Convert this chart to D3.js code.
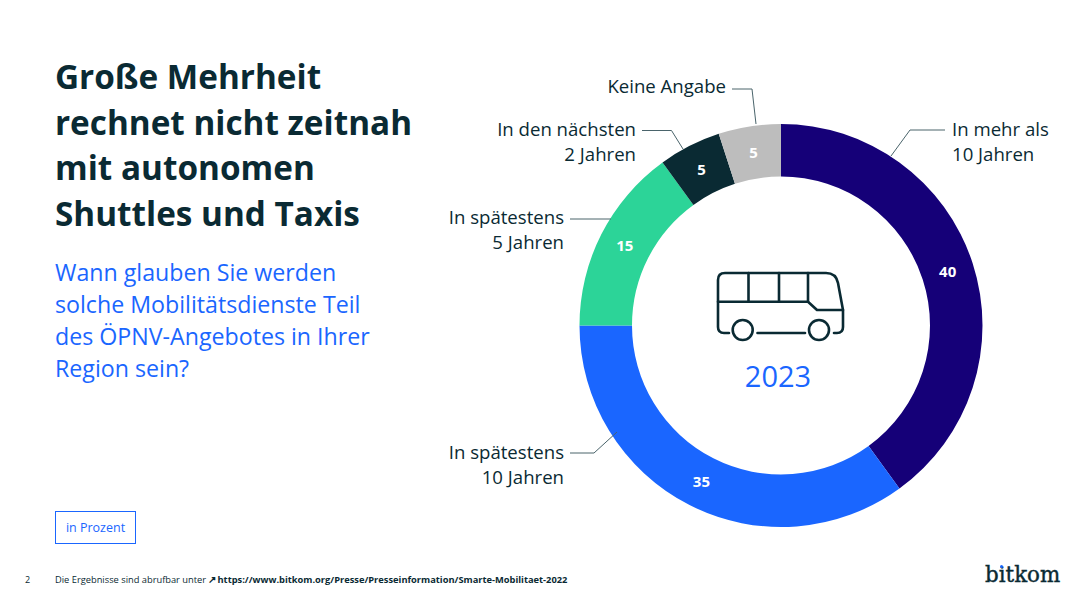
<!DOCTYPE html>
<html lang="de">
<head>
<meta charset="UTF-8"/>
<title>Autonome Shuttles und Taxis</title>
<script src="https://d3js.org/d3.v7.min.js"></script>
<style>
    body { margin: 0; background: #fff; }
    text { font-family: "Open Sans", sans-serif; }
</style>
</head>
<body>
<script>
var w = 1090, h = 613;

var categories = ["In mehr als 10 Jahren", "In spätestens 10 Jahren", "In spätestens 5 Jahren", "In den nächsten 2 Jahren", "Keine Angabe"];
var values = [40, 35, 15, 5, 5];
var colors = ["#150078", "#1a66ff", "#2cd498", "#0a2a33", "#bdbdbd"];
var titleLines = ["Große Mehrheit", "rechnet nicht zeitnah", "mit autonomen", "Shuttles und Taxis"];
var questionLines = ["Wann glauben Sie werden", "solche Mobilitätsdienste Teil", "des ÖPNV-Angebotes in Ihrer", "Region sein?"];

var dark = "#0a2a33", blue = "#1a66ff";
var cx = 781, cy = 325.5, outerR = 201.5, innerR = 149;

var svg = d3.select("body").append("svg")
    .attr("width", w).attr("height", h)
    .style("display", "block");

svg.selectAll(".title").data(titleLines).enter().append("text")
    .attr("class", "title")
    .attr("x", 55).attr("y", (d, i) => 89 + i * 45.6)
    .attr("font-size", 33.3).attr("font-weight", 700)
    .attr("fill", dark).text(d => d);

svg.selectAll(".question").data(questionLines).enter().append("text")
    .attr("class", "question")
    .attr("x", 55).attr("y", (d, i) => 281 + i * 32)
    .attr("font-size", 23.2).attr("fill", blue).text(d => d);

// donut
var pie = d3.pie().sort(null).value(d => d);
var arc = d3.arc().innerRadius(innerR).outerRadius(outerR);
var chart = svg.append("g").attr("transform", "translate(" + cx + "," + cy + ")");

var slices = chart.selectAll("g").data(pie(values)).enter().append("g");
slices.append("path").attr("d", arc).attr("fill", (d, i) => colors[i]);
slices.append("text")
    .attr("transform", d => "translate(" + arc.centroid(d) + ")")
    .attr("text-anchor", "middle").attr("dy", "0.36em")
    .attr("font-size", 15).attr("font-weight", 700)
    .attr("fill", "#fff").text(d => d.value);

// leader lines + labels
var labels = [
    { lines: ["In mehr als", "10 Jahren"], x: 952, y: 136, anchor: "start", line: [[945, 130], [910, 130], [891, 156]] },
    { lines: ["In spätestens", "10 Jahren"], x: 564, y: 459, anchor: "end", line: [[570, 453], [594, 453], [617, 432]] },
    { lines: ["In spätestens", "5 Jahren"], x: 564, y: 224, anchor: "end", line: [[570, 219], [611, 219]] },
    { lines: ["In den nächsten", "2 Jahren"], x: 636, y: 136, anchor: "end", line: [[642, 130.5], [671.5, 130.5], [683, 149]] },
    { lines: ["Keine Angabe"], x: 726, y: 93, anchor: "end", line: [[732, 89], [752, 89], [756, 124]] }
];

var lineGen = d3.line();
labels.forEach(function(l) {
    svg.append("path").attr("d", lineGen(l.line))
        .attr("fill", "none").attr("stroke", "#4a646b").attr("stroke-width", 1);
    l.lines.forEach(function(t, i) {
        svg.append("text").attr("x", l.x).attr("y", l.y + i * 25)
            .attr("text-anchor", l.anchor)
            .attr("font-size", 18.6).attr("fill", dark).text(t);
    });
});

// bus icon
var bus = svg.append("g").attr("fill", "none").attr("stroke", dark)
    .attr("stroke-width", 2.6).attr("stroke-linecap", "round").attr("stroke-linejoin", "round");
bus.append("path").attr("d", "M729 333H724Q718 333 718 327V280Q718 273 725 273H826Q836 273 838 283L843 310V327Q843 333 837 333H834");
bus.append("path").attr("d", "M718 301.7H808L817 310H843");
bus.append("path").attr("d", "M748.5 273V301.7M779 273V301.7M808 273V301.7");
bus.append("path").attr("d", "M757.5 333H805");
bus.append("circle").attr("cx", 742.7).attr("cy", 330).attr("r", 10);
bus.append("circle").attr("cx", 819).attr("cy", 330).attr("r", 10);

svg.append("text").attr("x", 778).attr("y", 387)
    .attr("text-anchor", "middle").attr("font-size", 29)
    .attr("fill", blue).text("2023");

// unit box
svg.append("rect").attr("x", 55.5).attr("y", 511.5).attr("width", 80).attr("height", 32)
    .attr("fill", "none").attr("stroke", blue).attr("stroke-width", 1);
svg.append("text").attr("x", 95.5).attr("y", 532).attr("text-anchor", "middle")
    .attr("font-size", 12.5).attr("fill", blue).text("in Prozent");

// footer
svg.append("text").attr("x", 25).attr("y", 583).attr("font-size", 9).attr("fill", dark).text("2");
var foot = svg.append("text").attr("x", 55).attr("y", 583).attr("font-size", 9.3).attr("fill", dark);
foot.append("tspan").text("Die Ergebnisse sind abrufbar unter ");
foot.append("tspan").attr("font-weight", 700).attr("font-size", 10).text("↗");
foot.append("tspan").attr("font-weight", 700).attr("dx", 1).text("https://www.bitkom.org/Presse/Presseinformation/Smarte-Mobilitaet-2022");

// logo
svg.append("text").attr("x", 985).attr("y", 582)
    .style("font-family", "'DejaVu Serif', serif")
    .attr("font-size", 21.4).attr("fill", dark).attr("stroke", dark).attr("stroke-width", 0.4).text("bitkom");
svg.append("circle").attr("cx", 1001.5).attr("cy", 566.5).attr("r", 1.5).attr("fill", blue);
</script>
</body>
</html>
